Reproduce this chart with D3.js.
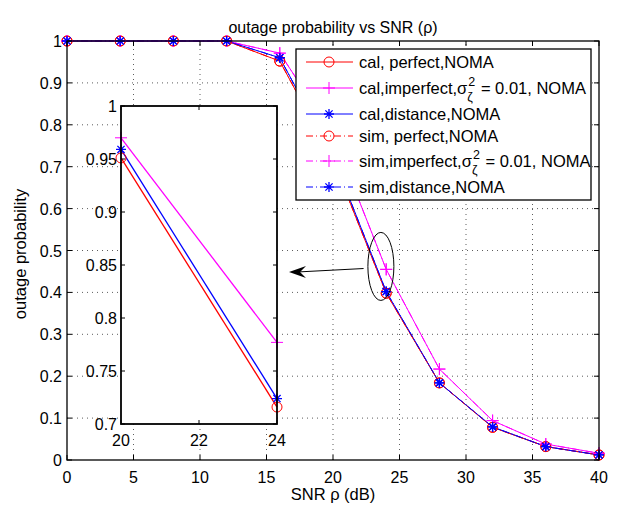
<!DOCTYPE html>
<html>
<head>
<meta charset="utf-8">
<script src="https://cdn.jsdelivr.net/npm/d3@7"></script>
<style>
  body { margin: 0; background: #fff; }
  svg { font-family: "Liberation Sans", Arial, sans-serif; }
</style>
</head>
<body>
<div id="chart"></div>
<script>
// SNR points (dB) and outage values
const snr = [0, 4, 8, 12, 16, 20, 24, 28, 32, 36, 40];
const calPerfect   = [1, 1, 1, 1, 0.952, 0.716, 0.398, 0.184, 0.078, 0.032, 0.012];
const calImperfect = [1, 1, 1, 1, 0.971, 0.777, 0.455, 0.217, 0.094, 0.038, 0.016];
const calDistance  = [1, 1, 1, 1, 0.960, 0.724, 0.402, 0.184, 0.079, 0.032, 0.012];
const simPerfect   = [1, 1, 1, 1, 0.952, 0.716, 0.398, 0.184, 0.078, 0.032, 0.012];
const simImperfect = [1, 1, 1, 1, 0.971, 0.777, 0.455, 0.217, 0.094, 0.038, 0.016];
const simDistance  = [1, 1, 1, 1, 0.960, 0.724, 0.402, 0.184, 0.079, 0.032, 0.012];

// zoomed inset (labelled 20..24 in the figure)
const insetX = [20, 24];
const insetPerfect   = [0.951, 0.716];
const insetImperfect = [0.970, 0.777];
const insetDistance  = [0.959, 0.724];

const xTicks = [0, 5, 10, 15, 20, 25, 30, 35, 40];
const yTicks = [0, 0.1, 0.2, 0.3, 0.4, 0.5, 0.6, 0.7, 0.8, 0.9, 1];
const insetXTicks = [20, 22, 24];
const insetYTicks = [0.7, 0.75, 0.8, 0.85, 0.9, 0.95, 1];

const legendLabels = ["cal, perfect,NOMA", "cal,imperfect,σ", "cal,distance,NOMA",
                      "sim, perfect,NOMA", "sim,imperfect,σ", "sim,distance,NOMA"];

const RED = "#ff0000", MAG = "#ff00ff", BLUE = "#0000ff";

const series = [
    {vals: calPerfect,   color: RED,  marker: "circle", dash: null},
    {vals: calImperfect, color: MAG,  marker: "plus",   dash: null},
    {vals: calDistance,  color: BLUE, marker: "star",   dash: null},
    {vals: simPerfect,   color: RED,  marker: "circle", dash: "7,3,1,3"},
    {vals: simImperfect, color: MAG,  marker: "plus",   dash: "7,3,1,3"},
    {vals: simDistance,  color: BLUE, marker: "star",   dash: "7,3,1,3"}
];
const insetSeries = [
    {vals: insetPerfect,   color: RED,  marker: "circle"},
    {vals: insetImperfect, color: MAG,  marker: "plus"},
    {vals: insetDistance,  color: BLUE, marker: "star"}
];

const W = 625, H = 510;
const svg = d3.select("#chart").append("svg").attr("width", W).attr("height", H);

const x = d3.scaleLinear().domain([0, 40]).range([67, 599]);
const y = d3.scaleLinear().domain([0, 1]).range([460, 41]);

function drawMarker(g, type, cx, cy, color) {
    if (type === "circle") {
        g.append("circle").attr("cx", cx).attr("cy", cy).attr("r", 5)
            .attr("fill", "none").attr("stroke", color).attr("stroke-width", 1);
    } else if (type === "plus") {
        let s = 6;
        g.append("path").attr("d", `M${cx - s},${cy}H${cx + s}M${cx},${cy - s}V${cy + s}`)
            .attr("stroke", color).attr("stroke-width", 1).attr("fill", "none");
    } else {
        let s = 5, d2 = s * 0.72;
        g.append("path")
            .attr("d", `M${cx - s},${cy}H${cx + s}M${cx},${cy - s}V${cy + s}` +
                `M${cx - d2},${cy - d2}L${cx + d2},${cy + d2}M${cx - d2},${cy + d2}L${cx + d2},${cy - d2}`)
            .attr("stroke", color).attr("stroke-width", 1.3).attr("fill", "none");
    }
}

// ---- main axes: grid ----
const grid = svg.append("g").attr("stroke", "#333").attr("stroke-width", 0.8)
    .attr("stroke-dasharray", "1,4");
xTicks.slice(1, -1).forEach(t => {
    grid.append("line").attr("x1", x(t)).attr("x2", x(t)).attr("y1", y(0)).attr("y2", y(1));
});
yTicks.slice(1, -1).forEach(t => {
    grid.append("line").attr("x1", x(0)).attr("x2", x(40)).attr("y1", y(t)).attr("y2", y(t));
});

// ---- main lines ----
const line = d3.line().x((d, i) => x(snr[i])).y(d => y(d));
const mainG = svg.append("g");
series.forEach(s => {
    mainG.append("path").datum(s.vals).attr("d", line)
        .attr("fill", "none").attr("stroke", s.color).attr("stroke-width", 1)
        .attr("stroke-dasharray", s.dash);
});
series.forEach(s => {
    s.vals.forEach((v, i) => drawMarker(mainG, s.marker, x(snr[i]), y(v), s.color));
});

// ---- main frame, ticks, labels ----
const frame = svg.append("g");
frame.append("rect").attr("x", x(0)).attr("y", y(1)).attr("width", x(40) - x(0)).attr("height", y(0) - y(1))
    .attr("fill", "none").attr("stroke", "#000").attr("stroke-width", 1.3);
xTicks.forEach(t => {
    frame.append("line").attr("x1", x(t)).attr("x2", x(t)).attr("y1", y(0)).attr("y2", y(0) - 5).attr("stroke", "#000");
    frame.append("line").attr("x1", x(t)).attr("x2", x(t)).attr("y1", y(1)).attr("y2", y(1) + 5).attr("stroke", "#000");
    frame.append("text").attr("x", x(t)).attr("y", 483).attr("text-anchor", "middle")
        .attr("font-size", 16).text(t);
});
yTicks.forEach(t => {
    frame.append("line").attr("x1", x(0)).attr("x2", x(0) + 5).attr("y1", y(t)).attr("y2", y(t)).attr("stroke", "#000");
    frame.append("line").attr("x1", x(40)).attr("x2", x(40) - 5).attr("y1", y(t)).attr("y2", y(t)).attr("stroke", "#000");
    frame.append("text").attr("x", 62).attr("y", y(t) + 6).attr("text-anchor", "end")
        .attr("font-size", 16).text(d3.format("~g")(t));
});
svg.append("text").attr("x", 333).attr("y", 33).attr("text-anchor", "middle")
    .attr("font-size", 16).text("outage probability vs SNR (ρ)");
svg.append("text").attr("x", 333).attr("y", 500).attr("text-anchor", "middle")
    .attr("font-size", 16.5).text("SNR ρ (dB)");
svg.append("text").attr("transform", "translate(26,254) rotate(-90)").attr("text-anchor", "middle")
    .attr("font-size", 16.5).text("outage probability");

// ---- inset ----
const ix = d3.scaleLinear().domain([20, 24]).range([121, 277]);
const iy = d3.scaleLinear().domain([0.7, 1]).range([424, 106]);
const inset = svg.append("g");
inset.append("rect").attr("x", ix(20)).attr("y", iy(1)).attr("width", ix(24) - ix(20)).attr("height", iy(0.7) - iy(1))
    .attr("fill", "#fff");
inset.append("clipPath").attr("id", "insetClip").append("rect")
    .attr("x", ix(20) - 6).attr("y", iy(1)).attr("width", ix(24) - ix(20) + 12).attr("height", iy(0.7) - iy(1) + 8);
const insetLines = inset.append("g").attr("clip-path", "url(#insetClip)");
const iline = d3.line().x((d, i) => ix(insetX[i])).y(d => iy(d));
insetSeries.forEach(s => {
    insetLines.append("path").datum(s.vals).attr("d", iline)
        .attr("fill", "none").attr("stroke", s.color).attr("stroke-width", 1.3);
});
insetSeries.forEach(s => {
    s.vals.forEach((v, i) => drawMarker(insetLines, s.marker, ix(insetX[i]), iy(v), s.color));
});
inset.append("rect").attr("x", ix(20)).attr("y", iy(1)).attr("width", ix(24) - ix(20)).attr("height", iy(0.7) - iy(1))
    .attr("fill", "none").attr("stroke", "#000").attr("stroke-width", 1.8);
insetYTicks.forEach(t => {
    inset.append("line").attr("x1", ix(20)).attr("x2", ix(20) + 4).attr("y1", iy(t)).attr("y2", iy(t)).attr("stroke", "#000");
    inset.append("line").attr("x1", ix(24)).attr("x2", ix(24) - 4).attr("y1", iy(t)).attr("y2", iy(t)).attr("stroke", "#000");
    inset.append("text").attr("x", 117).attr("y", iy(t) + 6).attr("text-anchor", "end")
        .attr("font-size", 16).text(d3.format("~g")(t));
});
insetXTicks.forEach(t => {
    inset.append("line").attr("x1", ix(t)).attr("x2", ix(t)).attr("y1", iy(0.7)).attr("y2", iy(0.7) - 4).attr("stroke", "#000");
    inset.append("line").attr("x1", ix(t)).attr("x2", ix(t)).attr("y1", iy(1)).attr("y2", iy(1) + 4).attr("stroke", "#000");
    inset.append("text").attr("x", ix(t)).attr("y", 446).attr("text-anchor", "middle")
        .attr("font-size", 16).text(t);
});

// ---- ellipse + arrow pointing to the inset ----
svg.append("ellipse").attr("cx", x(23.6)).attr("cy", y(0.462)).attr("rx", 13).attr("ry", 34)
    .attr("fill", "none").attr("stroke", "#000").attr("stroke-width", 1);
const ax0 = x(22.3), ay0 = y(0.457), ax1 = 289, ay1 = 272;
svg.append("line").attr("x1", ax0).attr("y1", ay0).attr("x2", ax1 + 8).attr("y2", ay1)
    .attr("stroke", "#000").attr("stroke-width", 1);
svg.append("path")
    .attr("d", `M${ax1},${ay1}L${ax1 + 17},${ay1 - 6}L${ax1 + 11},${ay1}L${ax1 + 17},${ay1 + 6}Z`)
    .attr("fill", "#000");

// ---- legend ----
const leg = svg.append("g");
leg.append("rect").attr("x", 296).attr("y", 49).attr("width", 295).attr("height", 151)
    .attr("fill", "#fff").attr("stroke", "#000").attr("stroke-width", 1.3);
const rowY = [62, 88, 114, 136, 161, 187];
series.forEach((s, i) => {
    let ry = rowY[i];
    leg.append("line").attr("x1", 306).attr("x2", 353).attr("y1", ry).attr("y2", ry)
        .attr("stroke", s.color).attr("stroke-width", 1).attr("stroke-dasharray", s.dash);
    drawMarker(leg, s.marker, 329, ry, s.color);
    let t = leg.append("text").attr("x", 359).attr("y", ry + 6).attr("font-size", 16.5)
        .text(legendLabels[i]);
    if (i === 1 || i === 4) {
        let w = t.node().getComputedTextLength();
        leg.append("text").attr("x", 359 + w + 1).attr("y", ry - 2).attr("font-size", 12.5).text("2");
        leg.append("text").attr("x", 359 + w).attr("y", ry + 13).attr("font-size", 12.5).text("ζ");
        leg.append("text").attr("x", 359 + w + 9).attr("y", ry + 6).attr("font-size", 16.5)
            .attr("xml:space", "preserve").text(" = 0.01, NOMA");
    }
});
</script>
</body>
</html>
